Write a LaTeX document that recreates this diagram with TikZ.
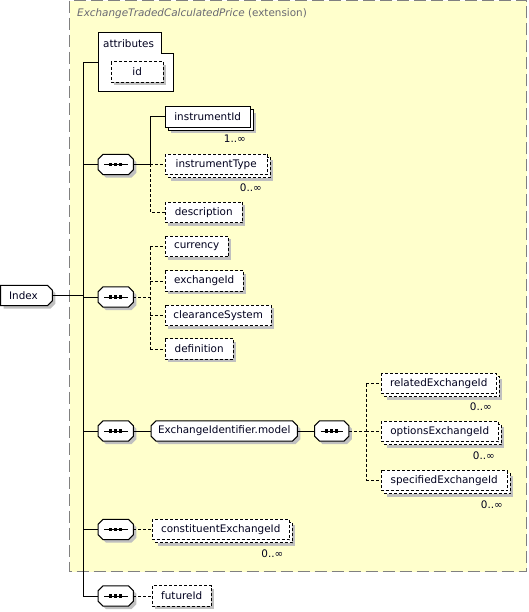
\documentclass[tikz,border=0pt]{standalone}
\usepackage{fontspec}
\setmainfont{DejaVu Sans}
\usetikzlibrary{calc}
\definecolor{extfill}{RGB}{255,255,204}
\definecolor{extborder}{RGB}{128,128,128}
\definecolor{shgray}{RGB}{192,192,192}
\definecolor{titlegray}{RGB}{105,105,115}
\definecolor{txt}{RGB}{0,0,30}
\pgfdeclarelayer{bottom}
\pgfdeclarelayer{shapes}
\pgfsetlayers{bottom,shapes,main}
% octagon outline of a node, chamfer #2, offset #3
\newcommand\octpath[3]{($(#1.north west)+(#2+#3,#3)$) -- ($(#1.north east)+(-#2+#3,#3)$) -- ($(#1.north east)+(#3,#2+#3)$) -- ($(#1.south east)+(#3,-#2+#3)$) -- ($(#1.south east)+(-#2+#3,#3)$) -- ($(#1.south west)+(#2+#3,#3)$) -- ($(#1.south west)+(#3,-#2+#3)$) -- ($(#1.north west)+(#3,#2+#3)$) -- cycle}
\newcommand\rectpath[2]{($(#1.north west)+(#2,#2)$) rectangle ($(#1.south east)+(#2,#2)$)}
\newcommand\plainbox[2]{%
  \begin{pgfonlayer}{shapes}
  \fill[shgray] \rectpath{#1}{3};
  \draw[boxline,fill=white,#2] \rectpath{#1}{0};
  \end{pgfonlayer}}
\newcommand\multibox[2]{%
  \begin{pgfonlayer}{shapes}
  \fill[shgray] \rectpath{#1}{6};
  \draw[boxline,fill=white,#2] \rectpath{#1}{3};
  \draw[boxline,fill=white,#2] \rectpath{#1}{0};
  \end{pgfonlayer}}
\newcommand\octbox[1]{%
  \begin{pgfonlayer}{shapes}
  \fill[shgray] \octpath{#1}{5}{3};
  \draw[boxline,fill=white] \octpath{#1}{5}{0};
  \end{pgfonlayer}}
\newcommand\seqsym[1]{%
  \octbox{#1}
  \begin{pgfonlayer}{shapes}
  \draw[boxline] ($(#1.west)+(6,0)$) -- ($(#1.east)+(-5.5,0)$);
  \foreach \d in {-5,0,5} \fill ($(#1.center)+(\d-1.6,-1.6)$) rectangle +(3.2,3.2);
  \end{pgfonlayer}}
\begin{document}
\begin{tikzpicture}[x=1pt,y=-1pt,
  every node/.style={font=\fontsize{10.4}{12}\selectfont, text=txt},
  boxline/.style={line width=1pt, black},
  conn/.style={line width=1pt},
  opt/.style={dash pattern=on 3pt off 2pt},
  elem/.style={rectangle, anchor=west, minimum height=20pt, inner sep=0pt},
  seqbox/.style={elem, minimum width=35pt},
  mult/.style={anchor=east, inner sep=0pt}
]
\useasboundingbox (0,0) rectangle (528,612);
% extension area
\begin{pgfonlayer}{bottom}
\draw[extborder, fill=extfill, line width=1.3pt, dash pattern=on 12pt off 5pt] (69.5,0.6) rectangle (526.6,571.5);
\draw[boxline, fill=white] (98,33) -- (161.5,33) -- (161.5,54) -- (173,54) -- (173,92) -- (98,92) -- cycle;
\end{pgfonlayer}
\node[anchor=west, inner sep=0pt, text=titlegray] (title) at (77,14) {\itshape ExchangeTradedCalculatedPrice\upshape{} (extension)};

% trunk
\coordinate (ttop) at (83,62.5);
\coordinate (tbot) at (83,596);
\draw[conn] (ttop) -- (tbot);

% index
\node[elem, minimum width=51.5pt] (index) at (0.5,295.5) {\hspace*{-6pt}Index};
\begin{pgfonlayer}{shapes}
\fill[shgray] ($(index.north west)+(3,3)$) -- ($(index.north east)+(-5+3,3)$) -- ($(index.north east)+(3,5+3)$) -- ($(index.south east)+(3,-5+3)$) -- ($(index.south east)+(-5+3,3)$) -- ($(index.south west)+(3,3)$) -- cycle;
\draw[boxline, fill=white] (index.north west) -- ($(index.north east)+(-5,0)$) -- ($(index.north east)+(0,5)$) -- ($(index.south east)+(0,-5)$) -- ($(index.south east)+(-5,0)$) -- (index.south west) -- cycle;
\end{pgfonlayer}
\draw[conn] (index.east) -- (index.east -| ttop);

% attributes
\coordinate (attr) at (98,62.5);
\node[anchor=west, inner sep=0pt] (attrlabel) at (103,43.5) {attributes};
\node[elem, minimum width=52pt] (id) at (111,72) {id};
\plainbox{id}{opt}
\draw[conn] (ttop) -- (attr);

% sequence 1
\node[seqbox] (s1) at (98,164.5) {};
\seqsym{s1}
\draw[conn] (s1.west -| ttop) -- (s1.west);
\node[elem, minimum width=85pt] (instrumentId) at (165,117) {instrumentId};
\multibox{instrumentId}{}
\node[mult] (m1) at (246,139) {1..∞};
\node[elem, minimum width=102pt] (instrumentType) at (165,164.5) {instrumentType};
\multibox{instrumentType}{opt}
\node[mult] (m2) at (262,188) {0..∞};
\node[elem, minimum width=77pt] (description) at (165,212.5) {description};
\plainbox{description}{opt}
\coordinate (b1) at (150.3,164.5);
\draw[conn] (s1.east) -- (b1);
\draw[conn] (instrumentId.west -| b1) -- (b1);
\draw[conn] (instrumentId.west -| b1) -- (instrumentId.west);
\draw[conn,opt] (b1) -- (instrumentType.west);
\draw[conn,opt] (b1) -- (description.west -| b1) -- (description.west);

% sequence 2
\node[seqbox] (s2) at (98,297) {};
\seqsym{s2}
\draw[conn] (s2.west -| ttop) -- (s2.west);
\node[elem, minimum width=63pt] (currency) at (165,246.5) {currency};
\node[elem, minimum width=78pt] (exchangeId) at (165,281) {exchangeId};
\node[elem, minimum width=106pt] (clearanceSystem) at (165,315.5) {clearanceSystem};
\node[elem, minimum width=68pt] (definition) at (165,349) {definition};
\foreach \n in {currency,exchangeId,clearanceSystem,definition}{\plainbox{\n}{opt}}
\coordinate (b2) at (150.3,297);
\draw[conn,opt] (s2.east) -- (b2);
\draw[conn,opt] (currency.west -| b2) -- (definition.west -| b2);
\foreach \n in {currency,exchangeId,clearanceSystem,definition}
  \draw[conn,opt] (\n.west -| b2) -- (\n.west);

% sequence 3
\node[seqbox] (s3) at (98,431) {};
\seqsym{s3}
\draw[conn] (s3.west -| ttop) -- (s3.west);
\node[elem, minimum width=146pt] (model) at (151,431) {ExchangeIdentifier.model};
\octbox{model}
\draw[conn] (s3.east) -- (model.west);
\node[seqbox, minimum width=34pt] (s3b) at (314.5,431) {};
\seqsym{s3b}
\draw[conn] (model.east) -- (s3b.west);
\node[elem, minimum width=115pt] (relatedExchangeId) at (381,383.5) {relatedExchangeId};
\node[mult] (m3) at (492,407) {0..∞};
\node[elem, minimum width=117pt] (optionsExchangeId) at (381,431.5) {optionsExchangeId};
\node[mult] (m4) at (495,456) {0..∞};
\node[elem, minimum width=126pt] (specifiedExchangeId) at (381,480.5) {specifiedExchangeId};
\node[mult] (m5) at (503,504.5) {0..∞};
\foreach \n in {relatedExchangeId,optionsExchangeId,specifiedExchangeId}{\multibox{\n}{opt}}
\coordinate (b3) at (366,431);
\draw[conn,opt] (s3b.east) -- (b3);
\draw[conn,opt] (relatedExchangeId.west -| b3) -- (specifiedExchangeId.west -| b3);
\foreach \n in {relatedExchangeId,optionsExchangeId,specifiedExchangeId}
  \draw[conn,opt] (\n.west -| b3) -- (\n.west);

% sequence 4
\node[seqbox] (s4) at (98,529.5) {};
\seqsym{s4}
\draw[conn] (s4.west -| ttop) -- (s4.west);
\node[elem, minimum width=137pt] (constituentExchangeId) at (152,529.5) {constituentExchangeId};
\multibox{constituentExchangeId}{opt}
\node[mult] (m6) at (283.5,553.5) {0..∞};
\draw[conn,opt] (s4.east) -- (constituentExchangeId.west);

% sequence 5
\node[seqbox] (s5) at (98,596) {};
\seqsym{s5}
\draw[conn] (s5.west -| ttop) -- (s5.west);
\node[elem, minimum width=59pt] (futureId) at (152,596) {futureId};
\plainbox{futureId}{opt}
\draw[conn,opt] (s5.east) -- (futureId.west);
\end{tikzpicture}
\end{document}
